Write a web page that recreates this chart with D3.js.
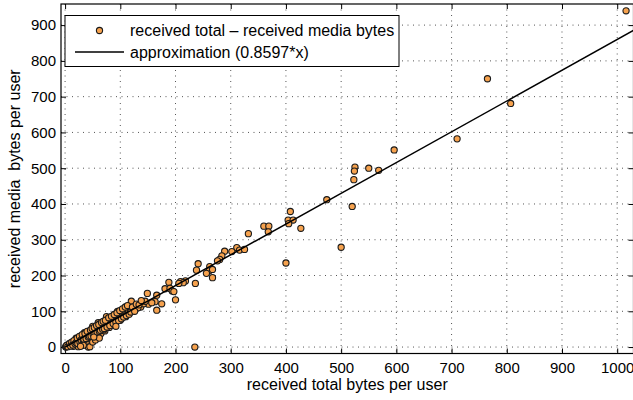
<!DOCTYPE html>
<html>
<head>
<meta charset="utf-8">
<script src="https://cdn.jsdelivr.net/npm/d3@7"></script>
<style>
  body { margin: 0; background: #fff; }
  svg { font-family: "Liberation Sans", Arial, Helvetica, sans-serif; }
</style>
</head>
<body>
<div id="chart"></div>
<script>
// Tick values
const xTicks = [0, 100, 200, 300, 400, 500, 600, 700, 800, 900, 1000];
const yTicks = [0, 100, 200, 300, 400, 500, 600, 700, 800, 900];

// Axis limits
const xLimits = [-7.4, 1029.5];
const yLimits = [-18, 959];

// Slope of the fitted line
const slope = 0.8597;

// [received total, received media] per user
const userPoints = [
    [1016, 940], [765, 750], [807, 681], [596, 551], [710, 582], [525, 503], [524, 492],
    [550, 500], [568, 494], [523, 468], [474, 412], [520, 393], [408, 379], [404, 355],
    [413, 355], [405, 345], [427, 332], [500, 279], [400, 235], [360, 338], [369, 338],
    [368, 322], [332, 317], [311, 278], [316, 271], [325, 273], [302, 267], [289, 268],
    [284, 255], [280, 245], [276, 241], [241, 233], [238, 215], [262, 225], [261, 213],
    [267, 217], [256, 206], [267, 194], [236, 178], [218, 185], [209, 183], [214, 180],
    [206, 178], [188, 181], [181, 163], [190, 164], [194, 157], [197, 155], [149, 150],
    [166, 145], [200, 132], [139, 125], [151, 120], [163, 127], [175, 121], [157, 124],
    [166, 103], [137, 112], [235, 0], [125, 105], [130, 115], [142, 121], [145, 128],
    [1, 1], [2, 0], [3, 2], [4, 3], [5, 4], [6, 3], [7, 6], [8, 5], [9, 8], [10, 7],
    [11, 9], [12, 10], [13, 8], [14, 12], [15, 12], [16, 14], [17, 13], [18, 15], [19, 17],
    [20, 16], [21, 18], [22, 20], [23, 19], [24, 21], [25, 22], [26, 20], [27, 24], [28, 23],
    [29, 25], [30, 26], [31, 27], [32, 25], [33, 29], [34, 28], [35, 30], [36, 31], [37, 29],
    [38, 33], [39, 34], [40, 35], [41, 32], [42, 37], [43, 36], [44, 38], [45, 39], [46, 40],
    [47, 38], [48, 42], [49, 41], [50, 44], [52, 45], [53, 42], [54, 47], [55, 48], [56, 46],
    [58, 50], [59, 52], [60, 51], [62, 54], [63, 50], [64, 56], [65, 55], [67, 58], [68, 57],
    [70, 61], [71, 56], [72, 63], [74, 64], [75, 60], [77, 67], [78, 65], [80, 70], [82, 71],
    [83, 66], [85, 74], [86, 76], [88, 73], [90, 79], [91, 77], [93, 81], [95, 84], [96, 78],
    [98, 86], [100, 88], [101, 82], [103, 90], [105, 92], [107, 94], [110, 96], [112, 93],
    [115, 100], [118, 104], [120, 103], [124, 108], [128, 112], [132, 110],
    [15, 2], [24, 1], [30, 8], [39, 10], [41, 6], [42, 0], [45, 1], [48, 24], [50, 14],
    [55, 20], [60, 30], [65, 38], [72, 45], [80, 55], [90, 65], [100, 75], [110, 85],
    [58, 36], [70, 48], [85, 62], [20, 25], [35, 40], [50, 58], [60, 68], [75, 85],
    [95, 100], [120, 128],
    [3, 5], [5, 1], [8, 10], [10, 3], [12, 14], [14, 6], [16, 18], [18, 9], [20, 12],
    [22, 25], [23, 10], [26, 30], [27, 14], [29, 20], [31, 35], [33, 18], [34, 22],
    [36, 38], [38, 24], [40, 44], [42, 28], [44, 30], [46, 48], [47, 31], [49, 52],
    [51, 35], [53, 55], [54, 38], [57, 60], [58, 42], [61, 63], [62, 44], [64, 47],
    [66, 69], [68, 50], [69, 72], [71, 52], [73, 75], [76, 56], [79, 82], [81, 60],
    [84, 86], [87, 66], [89, 91], [92, 70], [94, 96], [97, 74], [99, 102], [102, 79],
    [104, 107], [106, 84], [109, 112], [111, 88], [113, 116], [116, 92], [119, 98],
    [122, 112], [126, 100], [129, 120], [134, 118], [138, 130], [92, 58], [62, 25],
    [52, 28], [33, 5], [28, 2]
];

const legendLabels = ['received total \u2013 received media bytes', 'approximation (0.8597*x)'];

const W = 633, H = 400;
const plot = { left: 61, top: 4, right: 633.5, bottom: 353.5 };

const svg = d3.select('#chart').append('svg')
    .attr('width', W)
    .attr('height', H);

const x = d3.scaleLinear().domain(xLimits).range([plot.left, plot.right]);
const y = d3.scaleLinear().domain(yLimits).range([plot.bottom, plot.top]);

// Dotted grid
const grid = svg.append('g').attr('class', 'grid');
grid.selectAll('.vgrid')
    .data(xTicks)
    .enter()
    .append('line')
    .attr('x1', d => x(d)).attr('x2', d => x(d))
    .attr('y1', plot.top).attr('y2', plot.bottom)
    .style('stroke', '#555')
    .style('stroke-width', 1)
    .style('stroke-dasharray', '1,4.5');
grid.selectAll('.hgrid')
    .data(yTicks)
    .enter()
    .append('line')
    .attr('x1', plot.left).attr('x2', plot.right)
    .attr('y1', d => y(d)).attr('y2', d => y(d))
    .style('stroke', '#555')
    .style('stroke-width', 1)
    .style('stroke-dasharray', '1,4.5');

// Axes (ticks pointing inwards, on all four sides)
const fontSize = 15;
const fmt = d3.format('d');
svg.append('g')
    .attr('transform', `translate(0,${plot.bottom})`)
    .call(d3.axisBottom(x).tickValues(xTicks).tickFormat(fmt)
        .tickSizeInner(-5).tickSizeOuter(0).tickPadding(9));
svg.append('g')
    .attr('transform', `translate(${plot.left},0)`)
    .call(d3.axisLeft(y).tickValues(yTicks).tickFormat(fmt)
        .tickSizeInner(-5).tickSizeOuter(0).tickPadding(5));
svg.append('g')
    .attr('transform', `translate(0,${plot.top})`)
    .call(d3.axisTop(x).tickValues(xTicks).tickSizeInner(-5).tickSizeOuter(0).tickFormat(''));
svg.append('g')
    .attr('transform', `translate(${plot.right},0)`)
    .call(d3.axisRight(y).tickValues(yTicks).tickSizeInner(-5).tickSizeOuter(0).tickFormat(''));

svg.selectAll('.domain').remove();
svg.selectAll('.tick line').style('stroke', '#000').style('stroke-width', 1);
svg.selectAll('.tick text')
    .style('font-size', fontSize + 'px')
    .style('fill', '#000')
    .style('font-family', '"Liberation Sans", Arial, sans-serif');

// Scatter points
svg.append('g')
    .selectAll('circle')
    .data(userPoints)
    .enter()
    .append('circle')
    .attr('cx', d => x(d[0]))
    .attr('cy', d => y(d[1]))
    .attr('r', 3.1)
    .style('fill', '#f6a24e')
    .style('stroke', '#1a1a1a')
    .style('stroke-width', 1.1);

// Approximation line
const line = d3.line()
    .x(d => x(d))
    .y(d => y(slope * d));
svg.append('path')
    .attr('d', line([0, xLimits[1]]))
    .style('fill', 'none')
    .style('stroke', '#000')
    .style('stroke-width', 1.5);

// Plot box
svg.append('rect')
    .attr('x', plot.left)
    .attr('y', plot.top)
    .attr('width', plot.right - plot.left)
    .attr('height', plot.bottom - plot.top)
    .style('fill', 'none')
    .style('stroke', '#000')
    .style('stroke-width', 1.2);

// Axis titles
svg.append('text')
    .attr('x', (plot.left + plot.right) / 2)
    .attr('y', 390)
    .attr('text-anchor', 'middle')
    .style('font-size', '16px')
    .text('received total bytes per user');

svg.append('text')
    .attr('transform', `translate(20,${(plot.top + plot.bottom) / 2}) rotate(-90)`)
    .attr('text-anchor', 'middle')
    .style('font-size', '16px')
    .style('white-space', 'pre')
    .text('received media  bytes per user');

// Legend
const legend = svg.append('g').attr('class', 'legend');
legend.append('rect')
    .attr('x', 65).attr('y', 15.5)
    .attr('width', 334).attr('height', 51)
    .style('fill', '#fff')
    .style('stroke', '#000')
    .style('stroke-width', 1);
legend.append('circle')
    .attr('cx', 99.5).attr('cy', 30.5)
    .attr('r', 3.1)
    .style('fill', '#f6a24e')
    .style('stroke', '#1a1a1a')
    .style('stroke-width', 1.1);
legend.append('line')
    .attr('x1', 75).attr('x2', 124)
    .attr('y1', 52).attr('y2', 52)
    .style('stroke', '#000')
    .style('stroke-width', 1.5);
legend.selectAll('.legend-text')
    .data(legendLabels)
    .enter()
    .append('text')
    .attr('x', 130)
    .attr('y', (d, i) => 30.5 + i * 21.5)
    .attr('dy', '0.35em')
    .style('font-size', '16px')
    .text(d => d);
</script>
</body>
</html>
